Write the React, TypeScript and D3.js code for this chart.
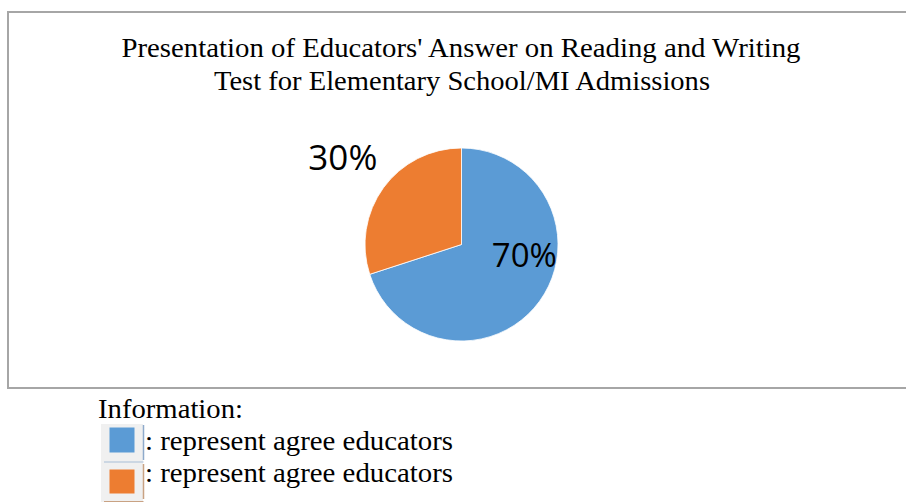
import React from "react";
import * as d3 from "d3";

const titleLines = [
  "Presentation of Educators' Answer on Reading and Writing",
  "Test for Elementary School/MI Admissions",
];
const categories = ["Agree", "Disagree"];
const values = [70, 30];
const sliceColors = ["#5B9BD5", "#ED7D31"];
const legendHeading = "Information:";
const legendTexts = [": represent agree educators", ": represent agree educators"];

const W = 906;
const H = 503;

export default function App() {
  const cx = 461.5;
  const cy = 244.5;
  const R = 96.5;
  const pie = d3.pie<number>().sort(null).value((d) => d)(values);
  const arc = d3.arc<d3.PieArcDatum<number>>().innerRadius(0).outerRadius(R);
  const total = d3.sum(values);
  // label placement (polar, relative to pie): blue inside, orange outside
  const labelRadius = [0.66 * R, 1.52 * R];
  const labelAngleShift = [-0.46, 0];
  const serif = "'Liberation Serif', 'Times New Roman', serif";
  const sans = "'Open Sans', 'Liberation Sans', sans-serif";

  return (
    <svg
      width={W}
      height={H}
      viewBox={`0 0 ${W} ${H}`}
      style={{ position: "absolute", left: 0, top: 0, display: "block", background: "#fff" }}
    >
      {/* chart frame */}
      <path d={`M${W + 5},12 H8 V388 H${W + 5}`} fill="none" stroke="#a6a6a6" strokeWidth={2} />

      {/* title */}
      <text x={461} y={57} fontFamily={serif} fontSize={27.5} textAnchor="middle" fill="#000" textLength={679} lengthAdjust="spacingAndGlyphs">
        {titleLines[0]}
      </text>
      <text x={462} y={90} fontFamily={serif} fontSize={27.5} textAnchor="middle" fill="#000" textLength={496} lengthAdjust="spacingAndGlyphs">
        {titleLines[1]}
      </text>

      {/* pie */}
      <g transform={`translate(${cx},${cy})`}>
        {pie.map((p, i) => (
          <path key={categories[i]} d={arc(p) || ""} fill={sliceColors[i]} stroke="#fff" strokeWidth={0.8} />
        ))}
        {pie.map((p, i) => {
          const a = (p.startAngle + p.endAngle) / 2 + labelAngleShift[i];
          const r = labelRadius[i];
          const x = r * Math.sin(a);
          const y = -r * Math.cos(a);
          return (
            <text key={"l" + i} x={x} y={y + 12} textAnchor="middle" fontFamily={sans} fontSize={i === 0 ? 33 : 35} fill="#000">
              {Math.round((values[i] / total) * 100)}%
            </text>
          );
        })}
      </g>

      {/* legend / information */}
      <text x={98} y={418} fontFamily={serif} fontSize={27} fill="#000" textLength={145} lengthAdjust="spacingAndGlyphs">
        {legendHeading}
      </text>
      {legendTexts.map((t, i) => {
        const top = 424 + i * 39;
        return (
          <g key={"lg" + i}>
            <rect x={101} y={top} width={42} height={39} fill="#f0f0f0" />
            <rect x={109.5} y={top + 3.5 + i * 3} width={25} height={25 - i * 1} fill={sliceColors[i]} />
            <line x1={143.5} x2={143.5} y1={top + 1} y2={top + 36} stroke={i === 0 ? "#8eaacb" : "#c9a283"} strokeWidth={1.5} />
            <line x1={104} x2={143.5} y1={top + (i === 0 ? 38 : 38.5)} y2={top + (i === 0 ? 38 : 38.5)} stroke={i === 0 ? "#a8bdd6" : "#c9a283"} strokeWidth={1.2} />
            <text x={145} y={450 + i * 32} fontFamily={serif} fontSize={27} fill="#000" textLength={308} lengthAdjust="spacingAndGlyphs">
              {t}
            </text>
          </g>
        );
      })}
    </svg>
  );
}
